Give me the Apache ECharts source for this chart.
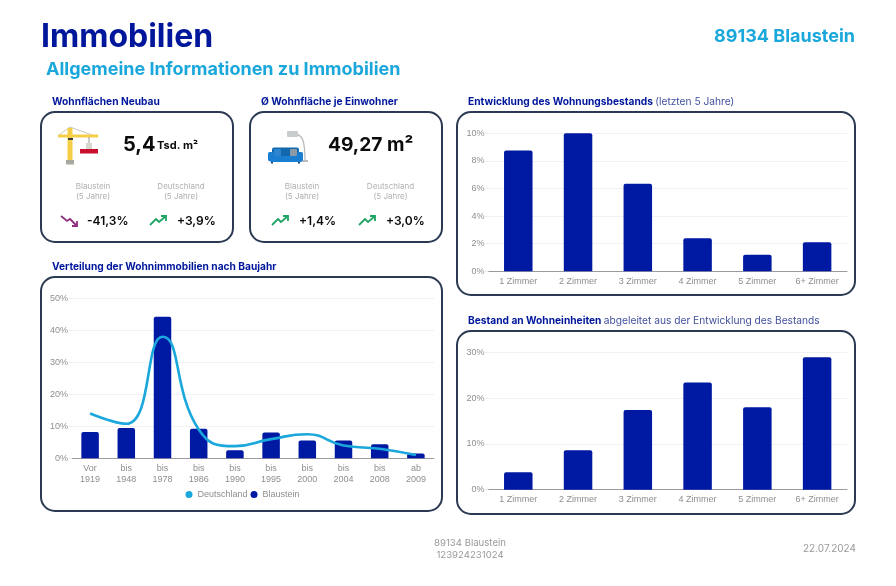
<!DOCTYPE html>
<html><head><meta charset="utf-8">
<style>html,body{margin:0;padding:0;background:#fff}#c{width:896px;height:586px}</style>
<script src="https://cdn.jsdelivr.net/npm/echarts@6/dist/echarts.min.js"></script>
</head><body><div id="c"></div>
<script>
const baujahrLabels = ['Vor\n1919','bis\n1948','bis\n1978','bis\n1986','bis\n1990','bis\n1995','bis\n2000','bis\n2004','bis\n2008','ab\n2009'];
const baujahrBlaustein = [8.2,9.5,44.2,9.2,2.5,8.1,5.6,5.6,4.4,1.5];
const baujahrDeutschland = [14,10.8,38,9,3.8,6,7.5,4,3,1];
const zimmerLabels = ['1 Zimmer','2 Zimmer','3 Zimmer','4 Zimmer','5 Zimmer','6+ Zimmer'];
const entwicklung = [8.75,10,6.35,2.4,1.2,2.1];
const bestand = [3.8,8.6,17.4,23.4,18,28.9];

const NAVY='#00179c', CYAN='#1aa7dc', GREY='#8e8e8e', HEAD='Inter, "Noto Sans", sans-serif', BODY='Liberation Sans';
const GREEN='#1fa463', PURPLE='#8f2f7f';

function txt(x,y,text,size,color,weight,align,family,extra){
  return {type:'text',x:x,y:y,silent:true,z:10,style:Object.assign({text:text,fontSize:size,fill:color,fontWeight:weight||'normal',align:align||'left',verticalAlign:'middle',fontFamily:family||HEAD},extra||{})};
}
function card(x,y,w,h){
  return {type:'rect',z:0,silent:true,shape:{x:x,y:y,width:w,height:h,r:14},style:{fill:'none',stroke:'#2b3a52',lineWidth:2}};
}
function trend(x,y,up){
  const c=up?GREEN:PURPLE;
  const pts=up?[[x,y+9],[x+6,y+3],[x+9,y+6],[x+16,y]]:[[x,y],[x+6,y+5],[x+9,y+3],[x+16,y+10]];
  const head=up?[[x+11,y],[x+16,y],[x+16,y+5]]:[[x+16,y+5],[x+16,y+10],[x+11,y+10]];
  return [{type:'polyline',z:5,silent:true,shape:{points:pts},style:{stroke:c,lineWidth:1.8,fill:null}},
          {type:'polyline',z:5,silent:true,shape:{points:head},style:{stroke:c,lineWidth:1.8,fill:null}}];
}
function rect(x,y,w,h,fill,r){return {type:'rect',z:5,silent:true,shape:{x:x,y:y,width:w,height:h,r:r||0},style:{fill:fill}};}
function line(pts,c,w){return {type:'polyline',z:4,silent:true,shape:{points:pts},style:{stroke:c,lineWidth:w,fill:null}};}

const crane=[
  line([[70,127],[59,135]],'#b9b9a0',0.8), line([[70,127],[92,135]],'#b9b9a0',0.8),
  rect(67.5,128,5,32,'#f4cf45'), rect(58,134.5,40,3,'#f4cf45'),
  rect(68,138,5,2,'#3a3a3a'), rect(88.5,137,1,6,'#999'), rect(86,143,6,6,'#d8d8d0'),
  rect(80,149,18,4.5,'#c8102e'), rect(66,160,8,4.5,'#a9a9a0')
];
const sofa=[
  {type:'bezierCurve',z:4,silent:true,shape:{x1:291,y1:135,cpx1:303,cpy1:131,cpx2:305,cpy2:142,x2:305,y2:161},style:{stroke:'#b8bdc1',lineWidth:1.3,fill:'none'}},
  rect(287,131,11,6,'#c9cccd',1), rect(302,160,6,2,'#b8bdc1'),
  rect(272,147.5,27,10,'#1268ad',2), rect(268,152,6,9,'#1a7fd0',1.5), rect(297,152,6,9,'#1a7fd0',1.5),
  rect(270,156,32,6,'#1a7fd0',1), rect(290,149,7,7,'#8c9aa6',1), rect(274,149,7,7,'#2d86cf',1),
  rect(271,162,2,1.5,'#0f4d85'), rect(298,162,2,1.5,'#0f4d85')
];
const richHead={rich:{b:{fontSize:10.2,fontWeight:700,fill:NAVY,fontFamily:HEAD},n:{fontSize:10.2,fontWeight:400,fill:'#3f4f9e',fontFamily:HEAD}}};

const graphics=[
  card(41,112,192,130), card(250,112,192,130), card(41,277,401,234), card(457,112,398,183), card(457,331,398,183),
  txt(41,37,'Immobilien',32,NAVY,700),
  txt(46,70,'Allgemeine Informationen zu Immobilien',18,CYAN,700),
  txt(855,37,'89134 Blaustein',18,CYAN,700,'right'),
  txt(52,102,'Wohnflächen Neubau',10.2,NAVY,700),
  txt(261,102,'Ø Wohnfläche je Einwohner',10.2,NAVY,700),
  txt(52,266.5,'Verteilung der Wohnimmobilien nach Baujahr',10.2,NAVY,700),
  txt(468,102,'{b|Entwicklung des Wohnungsbestands} {n|(letzten 5 Jahre)}',10.2,NAVY,700,'left',HEAD,richHead),
  txt(468,320.5,'{b|Bestand an Wohneinheiten} {n|abgeleitet aus der Entwicklung des Bestands}',10.2,NAVY,700,'left',HEAD,richHead),
  txt(123,145,'5,4',20,'#0b0b0b',700),
  txt(157,146,'Tsd. m²',11,'#0b0b0b',700),
  txt(328,145,'49,27 m²',19.2,'#0b0b0b',700),
  txt(93,187,'Blaustein',8,'#b0b0b0',400,'center'), txt(93,197,'(5 Jahre)',8,'#b0b0b0',400,'center'),
  txt(181,187,'Deutschland',8,'#b0b0b0',400,'center'), txt(181,197,'(5 Jahre)',8,'#b0b0b0',400,'center'),
  txt(302,187,'Blaustein',8,'#b0b0b0',400,'center'), txt(302,197,'(5 Jahre)',8,'#b0b0b0',400,'center'),
  txt(390.5,187,'Deutschland',8,'#b0b0b0',400,'center'), txt(390.5,197,'(5 Jahre)',8,'#b0b0b0',400,'center'),
  txt(87,221,'-41,3%',12,'#0b0b0b',600), txt(177,221,'+3,9%',12,'#0b0b0b',600),
  txt(299,221,'+1,4%',12,'#0b0b0b',600), txt(386,221,'+3,0%',12,'#0b0b0b',600),
  ...trend(61,216,false), ...trend(150,216,true), ...trend(272,216,true), ...trend(359,216,true),
  ...crane, ...sofa,
  txt(470,543,'89134 Blaustein',9.6,'#9a9a9a',400,'center'),
  txt(470,555,'123924231024',9.6,'#9a9a9a',400,'center'),
  txt(856,549,'22.07.2024',10,'#9a9a9a',400,'right')
];

function xAxis(i,data){return {type:'category',gridIndex:i,data:data,axisTick:{show:false},axisLine:{lineStyle:{color:'#9a9aa0',width:1}},
  axisLabel:{color:GREY,fontSize:9,fontFamily:BODY,lineHeight:10.5,margin:5,interval:0}};}
function yAxis(i,max,step){return {type:'value',gridIndex:i,min:0,max:max,interval:step,axisLine:{show:false},axisTick:{show:true,length:3,lineStyle:{color:'#ececec'}},
  splitLine:{lineStyle:{color:'#f1f1f3',width:1}},axisLabel:{color:GREY,fontSize:9,fontFamily:BODY,margin:4,formatter:'{value}%'}};}
function bar(name,x,data,w){return {name:name,type:'bar',xAxisIndex:x,yAxisIndex:x,data:data,barWidth:w,itemStyle:{color:'#0019a3',borderRadius:[2,2,0,0]},z:2};}

const chart=echarts.init(document.getElementById('c'),null,{renderer:'canvas'});
chart.setOption({
  animation:false,
  backgroundColor:'#fff',
  grid:[
    {left:72,top:298.3,width:362,height:160},
    {left:488.4,top:133.3,width:358.6,height:138},
    {left:488.4,top:352.3,width:358.6,height:137.4}
  ],
  xAxis:[xAxis(0,baujahrLabels),xAxis(1,zimmerLabels),xAxis(2,zimmerLabels)],
  yAxis:[yAxis(0,50,10),yAxis(1,10,2),yAxis(2,30,10)],
  legend:{data:['Deutschland','Blaustein'],left:185.5,top:490,icon:'circle',itemWidth:7,itemHeight:7,itemGap:3,
    textStyle:{color:GREY,fontSize:9,fontFamily:BODY},padding:0},
  series:[
    bar('Blaustein',0,baujahrBlaustein,17.5),
    {name:'Deutschland',type:'line',xAxisIndex:0,yAxisIndex:0,data:baujahrDeutschland,smooth:0.5,showSymbol:false,symbol:'circle',
      lineStyle:{color:CYAN,width:2.6},itemStyle:{color:CYAN},z:3},
    bar('Entwicklung',1,entwicklung,28.5),
    bar('Bestand',2,bestand,28.5)
  ],
  graphic:{elements:graphics}
});
</script></body></html>
